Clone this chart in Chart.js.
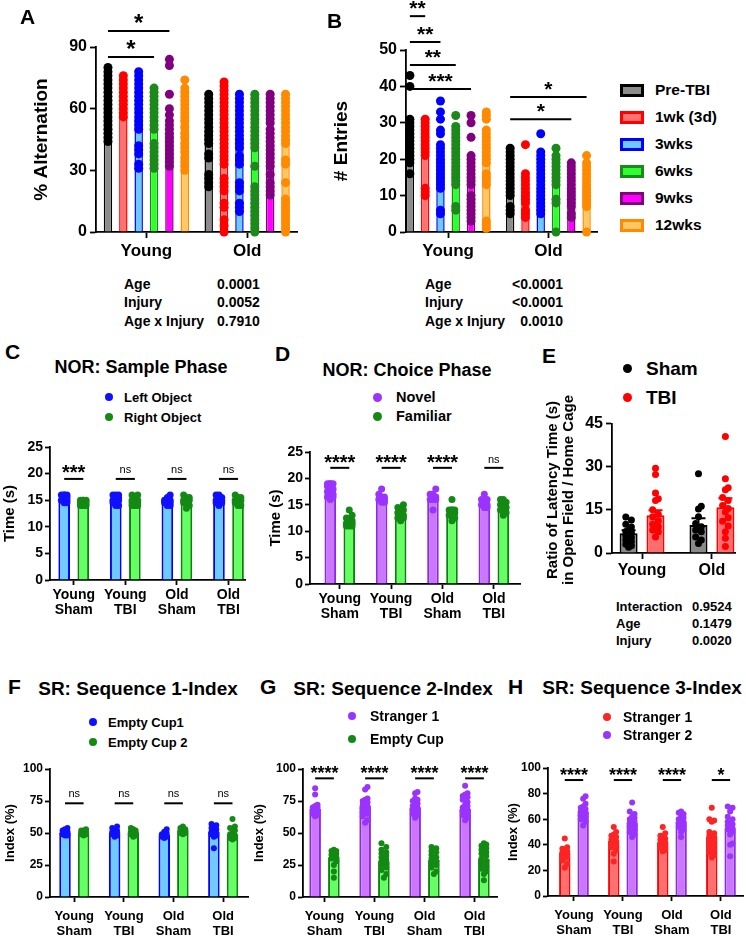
<!DOCTYPE html>
<html><head><meta charset="utf-8"><title>Behaviour figure</title>
<script src="https://cdn.jsdelivr.net/npm/chart.js@4.4.1/dist/chart.umd.min.js"></script>
<style>
html,body{margin:0;padding:0;background:#fff}
body{width:746px;height:936px;position:relative;overflow:hidden;font-family:"Liberation Sans",Arial,sans-serif;color:#000}
.t{position:absolute;white-space:nowrap;font-weight:bold;line-height:1}
.dot{position:absolute;border-radius:50%}
.box{position:absolute;box-sizing:border-box}
canvas{position:absolute}
</style></head><body>
<script>
// ================= DATA =================
// A & B : Y-maze
const ageGroups = ['Young', 'Old'];
const timepoints = ['Pre-TBI', '1wk (3d)', '3wks', '6wks', '9wks', '12wks'];
const altMeans = [[62, 49], [58, 44], [55, 46], [52, 46], [48, 44], [56, 45]];
const altDotsYoung = [
  [80,78,76,74,72,70,68,66,64,62,60,58,56,54,52,50,48,46,44],
  [76,74,72,70,68,66,64,62,60,58,56],
  [78,76,74,72,70,68,66,64,62,60,58,56,54,52,50,42,40,38,33,31],
  [70,68,66,64,62,60,58,56,54,52,50,43,41,39,37,35,33,31],
  [84,81,67,60,57,54,52,50,48,46,44,42,40,38,36,34,32],
  [74,70,68,66,64,62,60,58,56,54,51,48,46,43,41,39,36,34,32,30]
];
const altDotsOld = [
  [67,65,63,61,59,57,55,53,51,49,47,45,43,38,36,28,26,24,22],
  [73,71,69,67,65,63,61,59,57,55,53,51,49,47,45,43,41,39,37,35,33,26,24,22,20,14,12,6,3,0],
  [67,65,63,61,59,57,55,53,51,49,47,45,43,41,37,35,33,24,22,20,14,12,10],
  [67,65,63,61,59,57,55,53,51,49,47,45,43,41,32,22,20,18,16,14,12,10,8,6,4,2,0],
  [67,65,63,61,59,57,55,53,50,48,46,44,42,40,38,36,34,32,28,24,22,20,18],
  [67,65,63,61,59,57,55,53,51,49,47,45,43,35,33,24,16,14,12,10,8,6,4,2,0]
];
const entMeans = [[22, 14], [20.5, 11], [20, 12], [18, 13], [15.5, 12], [19, 12]];
const entDotsYoung = [
  [43,40,31,30,29,28,27,26,25,24,23,22,21,20,19,16],
  [31,30,29,28,27,26,25,24,23,22,21,12,11,10],
  [36,33,31,28,27,24,23,22,21,20,19,18,17,16,15,14,13,12,6,5],
  [32,29,28,27,26,25,24,23,22,21,20,19,18,17,16,15,14,13,7,6],
  [32,30,26,21,20,19,18,17,16,15,14,13,10,9,8,7,6,5,4,3],
  [33,32,31,28,27,26,25,24,23,22,21,20,19,16,15,14,13,3,2,1]
];
const entDotsOld = [
  [23,22,21,20,19,18,17,16,15,14,13,12,11,10,7,6,5],
  [24,16,15,14,13,12,11,10,9,8,6,5,4],
  [27,22,21,20,19,18,17,16,15,14,13,12,11,10,9,8,7,6,5],
  [23,21,20,19,18,17,16,15,14,13,9,8,0],
  [19,18,17,16,15,14,13,12,11,10,9,8,7,5,4],
  [21,19,18,17,16,15,14,13,12,11,10,9,8,7,0]
];
const effectNames = ['Age', 'Injury', 'Age x Injury'];
const altPValues = ['0.0001', '0.0052', '0.7910'];
const entPValues = ['<0.0001', '<0.0001', '0.0010'];

// groups for C, D, F, G, H
const groupLabels = [['Young','Sham'], ['Young','TBI'], ['Old','Sham'], ['Old','TBI']];

// C : NOR sample phase
const sampleSeries = ['Left Object', 'Right Object'];
const sampleLeftMeans = [15.3, 15.1, 15.0, 15.0];
const sampleRightMeans = [14.4, 14.9, 15.0, 14.9];
const sampleLeftDots = [
  [16,16,16,16,15.5,15.5,15,15,15,15,14.5,14.5],
  [16,16,16,15.5,15.5,15,15,15,14.5,14.5,14,14],
  [16,15.5,15,15,15,14.5,14.5,14.5,14,14],
  [16,16,15.5,15.5,15,15,15,14.5,14.5,14.5,14]
];
const sampleRightDots = [
  [15,15,15,15,14.5,14.5,14.5,14,14,14,14],
  [16,16,15.5,15,15,15,14.5,14.5,14.5,14,14,14],
  [16,15.5,15.5,15,15,15,14.5,14.5,14,13.5],
  [16,15.5,15.5,15,15,15,14.5,14.5,14,14]
];
const sampleSig = ['***', 'ns', 'ns', 'ns'];

// D : NOR choice phase
const choiceSeries = ['Novel', 'Familiar'];
const choiceNovelMeans = [17.8, 16.3, 16.2, 15.2];
const choiceFamiliarMeans = [11.8, 13.3, 13.6, 14.5];
const choiceNovelDots = [
  [19,19,19,19,18.5,18,18,17.5,17,17,16.5,16.5,16],
  [18,17,16.5,16.5,16,16,16,16,15.5,15.5],
  [18,17,17,16.5,16.5,16,16,16,14],
  [17,16,16,15.5,15,15,15,15,14.5,14.5]
];
const choiceFamiliarDots = [
  [14,13,12.5,12,12,11.5,11.5,11.5,11,11,11],
  [15,14.5,14,14,13.5,13.5,13,13,12.5,12.5,12],
  [16,14,14,14,14,13.5,13.5,13,13,12.5,12],
  [16,16,15.5,15,15,14.5,14.5,14,14,13.5,13]
];
const choiceSig = ['****', '****', '****', 'ns'];

// E : latency ratio
const latencySeries = ['Sham', 'TBI'];
const latShamMeans = [6.9, 9.7];
const latTBIMeans = [13.1, 15.9];
const latShamSEM = [1.0, 2.4];
const latTBISEM = [1.8, 3.1];
const latShamDots = [
  [12.5,11.5,10,9,8,7.5,7,6,5.5,5,4.5,4,3,2.5,2],
  [27.6,16.3,15.3,12.6,10.3,9.1,8,7.4,5.6,4.5,3.3]
];
const latTBIDots = [
  [29.5,27.3,20.9,18.9,18.3,15,13.5,12.6,11.2,10,9.1,8,7.4,5.6],
  [40.5,25.8,22.7,22,19.3,18.3,16.5,15.5,14.3,12.3,11,9.4,7.4,5.1,2.3]
];
const latEffects = ['Interaction', 'Age', 'Injury'];
const latPValues = ['0.9524', '0.1479', '0.0020'];

// F : SR sequence 1
const seq1Series = ['Empty Cup1', 'Empty Cup 2'];
const seq1Cup1Means = [50, 50.5, 48.5, 51];
const seq1Cup2Means = [50.5, 50.5, 52, 49];
const seq1Cup1Dots = [
  [54,53,52,51,51,50,50,50,49,49,48,48],
  [55,54,53,52,51,51,50,50,49,49,48,47],
  [53,51,50,49,49,48,48,47,47,46],
  [57,56,55,54,53,52,51,50,50,49,48,47,38]
];
const seq1Cup2Dots = [
  [53,52,52,51,51,50,50,50,49,49,48],
  [54,53,52,51,51,50,50,49,49,48,47],
  [55,54,53,53,52,52,51,50,50,49],
  [61,55,54,52,50,49,48,47,46,46,45]
];
const seq1Sig = ['ns', 'ns', 'ns', 'ns'];

// G : SR sequence 2
const seq2Series = ['Stranger 1', 'Empty Cup'];
const seq2S1Means = [69, 71, 70, 69];
const seq2CupMeans = [31, 28, 29, 30];
const seq2S1Dots = [
  [85,80,72,71,70,70,69,68,67,66,65,64,63],
  [86,84,77,76,75,74,73,72,71,70,69,68,67,66,65,63,60,58],
  [82,81,77,76,75,73,72,71,70,69,68,67,65,64,62],
  [87,81,80,79,78,76,74,72,71,70,69,68,67,66,65,64,62,60]
];
const seq2CupDots = [
  [37,36,36,35,34,33,32,31,30,28,25,20,15],
  [42,39,37,35,34,33,32,31,30,29,28,27,26,25,23,21,18,15],
  [39,38,36,35,33,31,30,29,28,27,25,23,20,18],
  [42,41,40,38,37,36,35,34,32,30,28,26,24,22,20,18,13]
];
const seq2Sig = ['****', '****', '****', '****'];

// H : SR sequence 3
const seq3Series = ['Stranger 1', 'Stranger 2'];
const seq3S1Means = [34, 43, 42, 46];
const seq3S2Means = [66, 57, 58, 53];
const seq3S1Dots = [
  [45,38,37,36,35,34,34,33,32,31,30,28,25,22],
  [54,50,48,47,46,45,44,43,42,41,40,38,36,33,27],
  [54,49,47,46,45,44,43,42,41,40,39,38,36,35],
  [69,60,59,58,50,49,48,47,46,45,44,43,42,41,40,38,36,34,32,30]
];
const seq3S2Dots = [
  [78,76,72,70,69,68,67,66,65,64,63,62,60,58,55],
  [73,66,64,62,61,60,59,58,57,56,55,54,52,50,48,46],
  [66,65,64,62,61,60,59,58,57,56,55,54,52,50,46],
  [70,69,66,62,60,58,57,56,55,54,53,52,50,48,41,40,31]
];
const seq3Sig = ['****', '****', '****', '*'];

// ================= STYLES =================
const FONT = '"Liberation Sans", Arial, Helvetica, sans-serif';
const tpStyles = [
  {fill:'#8c8c8c', border:'#000000', dot:'#000000'},
  {fill:'#ff7070', border:'#ff0000', dot:'#ff0000'},
  {fill:'#6ccaff', border:'#0000ff', dot:'#0000ff'},
  {fill:'#2eff2e', border:'#1b8a1b', dot:'#1b8a1b'},
  {fill:'#ff00ff', border:'#800080', dot:'#800080'},
  {fill:'#ffc864', border:'#ff8a00', dot:'#ff8a00'}
];
const S_BLUE = {fill:'#6ecbff', border:'#0000ff', dot:'#1010ff'};
const S_GREEN = {fill:'#63ff63', border:'#0b800b', dot:'#138a13'};
const S_VIO = {fill:'#cc75ff', border:'#8a2be2', dot:'#9b33ff'};
const S_RED = {fill:'#ff6f6f', border:'#ff0000', dot:'#ff2424'};
const S_SHAM = {fill:'#8a8a8a', border:'#000000', dot:'#000000'};
const S_TBI = {fill:'#ff6e6e', border:'#ff0000', dot:'#ff0000'};

Chart.defaults.font.family = FONT;
Chart.defaults.color = '#000';

// ================= PLUGINS =================
function barX(chart, g, j) { return chart.getDatasetMeta(j).data[g].x; }
const sigPlugin = {
  id: 'sigbars',
  afterDraw(chart) {
    const cfg = chart.canvas._cfg; const s = cfg.sig; if (!s) return;
    const ctx = chart.ctx, ys = chart.scales.y;
    ctx.save();
    s.items.forEach(it => {
      const x1 = barX(chart, it.g, it.a), x2 = barX(chart, it.g, it.b);
      const y = ys.getPixelForValue(it.y);
      ctx.strokeStyle = '#000'; ctx.lineWidth = s.lw;
      ctx.beginPath(); ctx.moveTo(x1, y); ctx.lineTo(x2, y); ctx.stroke();
      const ns = it.t === 'ns';
      ctx.font = (ns ? '' : 'bold ') + (ns ? s.nsSize : s.starSize) + 'px ' + FONT;
      ctx.fillStyle = '#000'; ctx.textAlign = 'center'; ctx.textBaseline = 'alphabetic';
      const m = ctx.measureText(it.t);
      ctx.fillText(it.t, (x1 + x2) / 2, y - s.gap - m.actualBoundingBoxDescent);
    });
    ctx.restore();
  }
};
const errPlugin = {
  id: 'errbars',
  afterDatasetDraw(chart, args) {
    const cfg = chart.canvas._cfg; if (!cfg.sem) return;
    const j = args.index; if (j >= cfg.sem.length) return;
    const ctx = chart.ctx, ys = chart.scales.y;
    ctx.save(); ctx.strokeStyle = cfg.series[j].border; ctx.lineWidth = 2;
    args.meta.data.forEach((el, g) => {
      const v = chart.data.datasets[j].data[g].y;
      const top = ys.getPixelForValue(v + cfg.sem[j][g]);
      ctx.beginPath(); ctx.moveTo(el.x, el.y); ctx.lineTo(el.x, top);
      ctx.moveTo(el.x - cfg.cap, top); ctx.lineTo(el.x + cfg.cap, top); ctx.stroke();
    });
    ctx.restore();
  }
};
const swarmPlugin = {
  id: 'swarm',
  afterDatasetsUpdate(chart) {
    const cfg = chart.canvas._cfg; const maxOff = cfg.swarm || 0; if (!maxOff) return;
    chart.data.datasets.forEach((ds, i) => {
      if (ds.type !== 'scatter') return;
      const meta = chart.getDatasetMeta(i); const r = ds.pointRadius;
      const groups = new Map();
      meta.data.forEach(pt => { const k = Math.round(pt.x); if (!groups.has(k)) groups.set(k, []); groups.get(k).push(pt); });
      const step = r * 0.8, minD = 2 * r * 0.85;
      const cands = [0];
      for (let k = 1; k * step <= maxOff + 0.01; k++) cands.push(k * step, -k * step);
      groups.forEach(pts => {
        const base = pts[0].x; const placed = [];
        pts.sort((a, b) => b.y - a.y);
        pts.forEach(pt => {
          let best = 0, bestScore = -1;
          for (const c of cands) {
            let dmin = Infinity;
            for (const q of placed) dmin = Math.min(dmin, Math.hypot(q.x - (base + c), q.y - pt.y));
            if (dmin >= minD) { best = c; break; }
            if (dmin > bestScore) { bestScore = dmin; best = c; }
          }
          pt.x = base + best; placed.push({x: pt.x, y: pt.y});
        });
      });
    });
  }
};

// ================= BUILDER =================
function buildChart(p) {
  const [L, T, R, B] = p.area;
  const left = L - p.yW, top = T - p.padT;
  const w = (R - L) + p.yW + p.padR, h = (B - T) + p.padT + p.xH;
  const cv = document.createElement('canvas');
  cv.width = w; cv.height = h;
  cv.style.left = left + 'px'; cv.style.top = top + 'px';
  cv.style.width = w + 'px'; cv.style.height = h + 'px';
  cv._cfg = p;
  document.body.appendChild(cv);
  const n = p.series.length;
  const datasets = [];
  p.series.forEach(s => datasets.push({
    type: 'bar', label: s.label, data: s.means.map((v, g) => ({x: g, y: v})),
    backgroundColor: s.fill, borderColor: s.border, borderWidth: p.bw,
    categoryPercentage: p.catPct, barPercentage: p.barPct, order: 2
  }));
  p.series.forEach((s, j) => {
    const off = (-0.5 + (j + 0.5) / n) * p.catPct;
    const pts = [];
    s.dots.forEach((vals, g) => vals.forEach(v => pts.push({x: g + off, y: v})));
    datasets.push({type: 'scatter', label: s.label + ' (individual)', data: pts,
      pointRadius: p.r, pointHoverRadius: p.r, pointBackgroundColor: s.dot, pointBorderColor: s.dot,
      pointBorderWidth: 0, clip: false, order: 1});
  });
  const labels = p.labels;
  return new Chart(cv, {
    type: 'bar',
    data: {datasets},
    options: {
      responsive: false, animation: false, events: [],
      layout: {padding: {top: p.padT, right: p.padR, left: 0, bottom: 0}},
      plugins: {legend: {display: false}, tooltip: {enabled: false}},
      scales: {
        x: {type: 'linear', min: p.xMin, max: p.xMax, offset: false,
          afterFit: s => { s.height = p.xH; },
          afterBuildTicks: s => { s.ticks = labels.map((_, i) => ({value: i})); },
          ticks: {callback: v => labels[v], font: {size: p.xFont, weight: 'bold', lineHeight: p.xLH || 1.2},
            color: '#000', padding: p.xPad, autoSkip: false, maxRotation: 0, minRotation: 0},
          grid: {display: true, drawOnChartArea: false, drawTicks: true, tickLength: p.tl, tickWidth: p.axW, tickColor: '#000', offset: false},
          border: {display: true, color: '#000', width: p.axW}},
        y: {type: 'linear', min: p.yMin, max: p.yMax,
          afterFit: s => { s.width = p.yW; },
          ticks: {stepSize: p.yStep, font: {size: p.yFont, weight: 'bold'}, color: '#000', padding: p.yPad},
          grid: {drawOnChartArea: false, drawTicks: true, tickLength: p.tl, tickWidth: p.axW, tickColor: '#000'},
          border: {display: true, color: '#000', width: p.axW},
          title: p.yTitle ? {display: true, text: p.yTitle, color: '#000', font: {size: p.yTitleSize, weight: 'bold'},
            padding: {top: Math.max(0, p.yTitleX - left - p.yTitleSize * 0.6), bottom: 0}} : {display: false}}
      }
    },
    plugins: [swarmPlugin, errPlugin, sigPlugin]
  });
}

// ================= TEXT HELPERS =================
function txt(s, x, y, size, o = {}) {
  const d = document.createElement('div');
  d.className = 't'; d.textContent = s; d.style.fontSize = size + 'px';
  d.style.top = (y - size * 0.49) + 'px';
  if (o.align === 'center') { d.style.left = x + 'px'; d.style.transform = 'translateX(-50%)'; }
  else if (o.align === 'right') { d.style.right = (746 - x) + 'px'; }
  else d.style.left = x + 'px';
  if (o.normal) d.style.fontWeight = 'normal';
  document.body.appendChild(d);
}
function dot(x, y, r, color) {
  const d = document.createElement('div'); d.className = 'dot';
  d.style.left = (x - r) + 'px'; d.style.top = (y - r) + 'px';
  d.style.width = d.style.height = (2 * r) + 'px'; d.style.background = color;
  document.body.appendChild(d);
}
function box(x, y, w, h, fill, border, bw) {
  const d = document.createElement('div'); d.className = 'box';
  d.style.left = x + 'px'; d.style.top = (y - h / 2) + 'px'; d.style.width = w + 'px'; d.style.height = h + 'px';
  d.style.background = fill; d.style.border = bw + 'px solid ' + border;
  document.body.appendChild(d);
}
function vtxt(lines, cx, cy, size, lh) {
  const d = document.createElement('div'); d.className = 't';
  d.style.fontSize = size + 'px'; d.style.lineHeight = lh + 'px'; d.style.textAlign = 'center';
  d.style.left = cx + 'px'; d.style.top = cy + 'px';
  d.style.transform = 'translate(-50%,-50%) rotate(-90deg)';
  lines.forEach((l, i) => { if (i) d.appendChild(document.createElement('br')); d.appendChild(document.createTextNode(l)); });
  document.body.appendChild(d);
}
function dotLegend(names, styles, dx, tx, ys, r, size) {
  names.forEach((nm, i) => { dot(dx, ys[i], r, styles[i].dot); txt(nm, tx, ys[i], size); });
}
function pairSig(sigs, y) { return sigs.map((t, g) => ({g, a: 0, b: 1, y, t})); }

// ================= PANELS =================
// A
buildChart({area: [96, 47, 298, 232], yW: 92, padT: 43, padR: 4, xH: 30, xMin: -0.5, xMax: 1.5,
  yMin: 0, yMax: 90, yStep: 30, yFont: 16, xFont: 17, xPad: 3, yPad: 3, tl: 6, axW: 1.8, bw: 1.5,
  catPct: 0.915, barPct: 0.55, r: 4.5, labels: ageGroups,
  yTitle: '% Alternation', yTitleSize: 19, yTitleX: 42,
  series: timepoints.map((t, j) => Object.assign({label: t, means: altMeans[j], dots: [altDotsYoung[j], altDotsOld[j]]}, tpStyles[j])),
  sig: {items: [{g: 0, a: 0, b: 4, y: 97.8, t: '*'}, {g: 0, a: 0, b: 3, y: 85.1, t: '*'}], gap: 8, starSize: 24, nsSize: 11, lw: 2}});
// B
buildChart({area: [406, 50, 598, 232], yW: 80, padT: 50, padR: 4, xH: 30, xMin: -0.42, xMax: 1.49,
  yMin: 0, yMax: 50, yStep: 10, yFont: 16, xFont: 17, xPad: 3, yPad: 3, tl: 6, axW: 1.8, bw: 1.5,
  catPct: 0.915, barPct: 0.55, r: 4.5, labels: ageGroups,
  yTitle: '# Entries', yTitleSize: 19, yTitleX: 342,
  series: timepoints.map((t, j) => Object.assign({label: t, means: entMeans[j], dots: [entDotsYoung[j], entDotsOld[j]]}, tpStyles[j])),
  sig: {items: [{g: 0, a: 0, b: 1, y: 59.3, t: '**'}, {g: 0, a: 0, b: 2, y: 52.2, t: '**'}, {g: 0, a: 0, b: 3, y: 45.9, t: '**'},
    {g: 0, a: 0, b: 4, y: 39.3, t: '***'}, {g: 1, a: 0, b: 5, y: 37.1, t: '*'}, {g: 1, a: 0, b: 4, y: 31.0, t: '*'}], gap: 7, starSize: 21, nsSize: 11, lw: 2}});
// C
buildChart({area: [50, 447, 245, 580], yW: 50, padT: 12, padR: 5, xH: 40, xMin: -0.46, xMax: 3.32,
  yMin: 0, yMax: 25, yStep: 5, yFont: 14, xFont: 14, xLH: 1.1, xPad: 2, yPad: 2, tl: 5, axW: 1.8, bw: 2,
  catPct: 0.74, barPct: 0.61, r: 3.5, swarm: 3, labels: groupLabels,
  yTitle: 'Time (s)', yTitleSize: 15, yTitleX: 10,
  series: [Object.assign({label: sampleSeries[0], means: sampleLeftMeans, dots: sampleLeftDots}, S_BLUE),
           Object.assign({label: sampleSeries[1], means: sampleRightMeans, dots: sampleRightDots}, S_GREEN)],
  sig: {items: pairSig(sampleSig, 19.0), gap: 6, starSize: 20, nsSize: 11, lw: 2}});
// D
buildChart({area: [310, 452, 520, 584], yW: 50, padT: 12, padR: 5, xH: 40, xMin: -0.58, xMax: 3.51,
  yMin: 0, yMax: 25, yStep: 5, yFont: 14, xFont: 14, xLH: 1.1, xPad: 2, yPad: 2, tl: 5, axW: 1.8, bw: 2,
  catPct: 0.74, barPct: 0.61, r: 3.5, swarm: 3, labels: groupLabels,
  yTitle: 'Time (s)', yTitleSize: 15, yTitleX: 276,
  series: [Object.assign({label: choiceSeries[0], means: choiceNovelMeans, dots: choiceNovelDots}, S_VIO),
           Object.assign({label: choiceSeries[1], means: choiceFamiliarMeans, dots: choiceFamiliarDots}, S_GREEN)],
  sig: {items: pairSig(choiceSig, 22.0), gap: 5, starSize: 20, nsSize: 11, lw: 2}});
// E
buildChart({area: [612, 423, 735, 553], yW: 70, padT: 12, padR: 8, xH: 30, xMin: -0.43, xMax: 1.33,
  yMin: 0, yMax: 45, yStep: 15, yFont: 16, xFont: 16, xPad: 2, yPad: 3, tl: 6, axW: 1.8, bw: 2,
  catPct: 0.77, barPct: 0.67, r: 3.5, swarm: 4, labels: ageGroups,
  series: [Object.assign({label: latencySeries[0], means: latShamMeans, dots: latShamDots}, S_SHAM),
           Object.assign({label: latencySeries[1], means: latTBIMeans, dots: latTBIDots}, S_TBI)],
  sem: [latShamSEM, latTBISEM], cap: 7});
// F
buildChart({area: [50, 769, 248, 897], yW: 50, padT: 12, padR: 5, xH: 39, xMin: -0.49, xMax: 3.5,
  yMin: 0, yMax: 100, yStep: 25, yFont: 12, xFont: 13, xLH: 1.15, xPad: 7, yPad: 2, tl: 5, axW: 1.8, bw: 2,
  catPct: 0.75, barPct: 0.62, r: 3, swarm: 3.5, labels: groupLabels,
  yTitle: 'Index (%)', yTitleSize: 13, yTitleX: 10,
  series: [Object.assign({label: seq1Series[0], means: seq1Cup1Means, dots: seq1Cup1Dots}, S_BLUE),
           Object.assign({label: seq1Series[1], means: seq1Cup2Means, dots: seq1Cup2Dots}, S_GREEN)],
  sig: {items: pairSig(seq1Sig, 73.2), gap: 6, starSize: 18, nsSize: 11, lw: 2}});
// G
buildChart({area: [303, 769, 497, 897], yW: 56, padT: 12, padR: 5, xH: 39, xMin: -0.43, xMax: 3.45,
  yMin: 0, yMax: 100, yStep: 25, yFont: 12, xFont: 13, xLH: 1.15, xPad: 7, yPad: 2, tl: 5, axW: 1.8, bw: 2,
  catPct: 0.75, barPct: 0.62, r: 3, swarm: 3.5, labels: groupLabels,
  yTitle: 'Index (%)', yTitleSize: 13, yTitleX: 259,
  series: [Object.assign({label: seq2Series[0], means: seq2S1Means, dots: seq2S1Dots}, S_VIO),
           Object.assign({label: seq2Series[1], means: seq2CupMeans, dots: seq2CupDots}, S_GREEN)],
  sig: {items: pairSig(seq2Sig, 92.7), gap: 5, starSize: 18, nsSize: 11, lw: 2}});
// H
buildChart({area: [548, 768, 745, 896], yW: 48, padT: 12, padR: 1, xH: 39, xMin: -0.53, xMax: 3.45,
  yMin: 0, yMax: 100, yStep: 20, yFont: 12, xFont: 13, xLH: 1.15, xPad: 7, yPad: 2, tl: 5, axW: 1.8, bw: 2,
  catPct: 0.75, barPct: 0.62, r: 3, swarm: 3.5, labels: groupLabels,
  yTitle: 'Index (%)', yTitleSize: 13, yTitleX: 513.5,
  series: [Object.assign({label: seq3Series[0], means: seq3S1Means, dots: seq3S1Dots}, S_RED),
           Object.assign({label: seq3Series[1], means: seq3S2Means, dots: seq3S2Dots}, S_VIO)],
  sig: {items: pairSig(seq3Sig, 90.6), gap: 5, starSize: 18, nsSize: 11, lw: 2}});

// ================= TEXT =================
txt('A', 20, 16, 21); txt('B', 327, 20, 21); txt('C', 5, 351, 21); txt('D', 275, 353, 21);
txt('E', 542, 355, 21); txt('F', 8, 686, 21); txt('G', 260, 686, 21); txt('H', 508, 686, 21);

// A / B legend
const legYs = [90, 117, 144, 171, 198, 225];
timepoints.forEach((t, j) => { box(620, legYs[j], 24, 13, tpStyles[j].fill, tpStyles[j].border, 3); txt(t, 655, legYs[j], 15.5); });

// A / B statistics
const statYs = [284, 302, 321];
effectNames.forEach((e, i) => {
  txt(e, 124, statYs[i], 14); txt(altPValues[i], 217, statYs[i], 14);
  txt(e, 425, statYs[i], 14); txt(entPValues[i], 563, statYs[i], 14, {align: 'right'});
});

// C / D titles and legends
txt('NOR: Sample Phase', 141, 367, 18, {align: 'center'});
dotLegend(sampleSeries, [S_BLUE, S_GREEN], 109, 124, [397, 417], 4, 13);
txt('NOR: Choice Phase', 407, 370, 18, {align: 'center'});
dotLegend(choiceSeries, [S_VIO, S_GREEN], 377, 396, [397, 416], 4.5, 14.5);

// E legend, y title, stats
dotLegend(latencySeries, [S_SHAM, S_TBI], 627, 646, [368, 397], 4.5, 19);
vtxt(['Ratio of Latency Time (s)', 'in Open Field / Home Cage'], 560, 490, 15, 16);
const latYs = [606, 623, 640];
latEffects.forEach((e, i) => { txt(e, 616, latYs[i], 13); txt(latPValues[i], 692, latYs[i], 13); });

// F / G / H titles and legends
txt('SR: Sequence 1-Index', 138, 688, 19, {align: 'center'});
dotLegend(seq1Series, [S_BLUE, S_GREEN], 93, 108, [722, 742], 4, 13);
txt('SR: Sequence 2-Index', 393, 688, 19, {align: 'center'});
dotLegend(seq2Series, [S_VIO, S_GREEN], 352, 370, [716, 739], 4, 14);
txt('SR: Sequence 3-Index', 642, 687, 19, {align: 'center'});
dotLegend(seq3Series, [S_RED, S_VIO], 607, 623, [717, 735], 4, 14);
</script>
</body></html>
